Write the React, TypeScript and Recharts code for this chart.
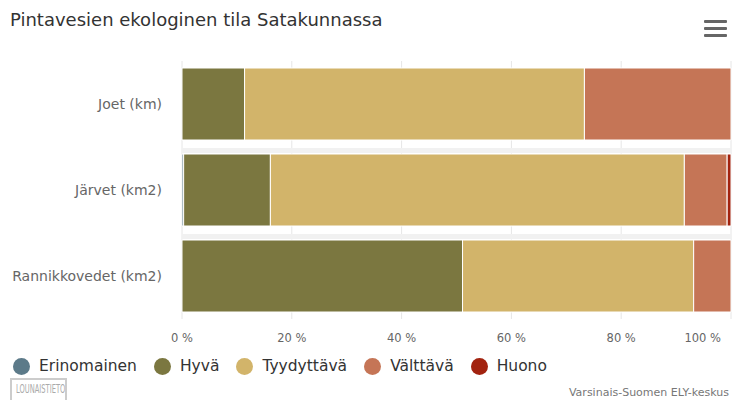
import { BarChart, Bar, XAxis, YAxis, CartesianGrid } from "recharts";

// values as % of total per water type
const categories = ["Joet (km)", "Järvet (km2)", "Rannikkovedet (km2)"];
const erinomainen = [0, 0.3, 0];
const hyva = [11.4, 15.8, 51.1];
const tyydyttava = [61.9, 75.4, 42.1];
const valttava = [26.7, 7.8, 6.8];
const huono = [0, 0.7, 0];
const xTicks = [0, 20, 40, 60, 80, 100];

const series = [
  { key: "Erinomainen", values: erinomainen, color: "#5c7a89" },
  { key: "Hyvä", values: hyva, color: "#7b7740" },
  { key: "Tyydyttävä", values: tyydyttava, color: "#d2b46a" },
  { key: "Välttävä", values: valttava, color: "#c57556" },
  { key: "Huono", values: huono, color: "#a2230f" },
];

const data = categories.map((name, i) => {
  const row: any = { name };
  series.forEach((s) => (row[s.key] = s.values[i]));
  return row;
});

const font = "'DejaVu Sans', sans-serif";

// last label is pulled in so it is not cut at the right edge
const XTick = ({ x, y, payload }: any) => {
  const last = payload.value === 100;
  return (
    <text
      x={last ? x + 1 : x}
      y={y}
      dy="0.71em"
      textAnchor={last ? "end" : "middle"}
      fill="#666"
      fontSize={11.5}
      fontFamily={font}
    >
      {`${payload.value} %`}
    </text>
  );
};

// faint strip between rows
const RowShade = ({ x, y, width, index }: any) =>
  index > 0 ? <rect x={x} y={y - 6} width={width} height={5} fill="#f1f1f1" /> : null;

const App = () => {
  return (
    <div
      style={{
        position: "absolute",
        left: 0,
        top: 0,
        width: 732,
        height: 400,
        background: "#fff",
        fontFamily: font,
      }}
    >
      <div
        style={{
          position: "absolute",
          left: 10,
          top: 9,
          fontSize: 18,
          color: "#333",
          whiteSpace: "nowrap",
        }}
      >
        Pintavesien ekologinen tila Satakunnassa
      </div>
      {/* menu icon */}
      <div style={{ position: "absolute", left: 704, top: 20, width: 23 }}>
        {[0, 1, 2].map((i) => (
          <div
            key={i}
            style={{ height: 3, background: "#666", marginBottom: 4, borderRadius: 1 }}
          />
        ))}
      </div>
      <BarChart
        width={732}
        height={400}
        layout="vertical"
        data={data}
        margin={{ top: 61, right: 1, bottom: 51, left: 0 }}
        barSize={72}
      >
        <CartesianGrid horizontal={false} stroke="#e6e6e6" />
        <XAxis
          type="number"
          domain={[0, 100]}
          ticks={xTicks}
          axisLine={false}
          tickLine={false}
          tickSize={0}
          tickMargin={15}
          height={30}
          tick={<XTick />}
        />
        <YAxis
          type="category"
          dataKey="name"
          width={182}
          axisLine={false}
          tickLine={false}
          tickSize={0}
          tickMargin={20}
          tick={{ fill: "#666", fontSize: 14, fontFamily: font }}
        />
        {series.map((s, i) => (
          <Bar
            key={s.key}
            dataKey={s.key}
            stackId="a"
            fill={s.color}
            stroke="#fff"
            strokeWidth={1}
            background={i === 1 ? <RowShade /> : undefined}
            isAnimationActive={false}
          />
        ))}
      </BarChart>
      {/* legend */}
      <div
        style={{
          position: "absolute",
          left: 13,
          top: 357,
          display: "flex",
          alignItems: "center",
          fontSize: 15.5,
          color: "#333",
          whiteSpace: "nowrap",
        }}
      >
        {series.map((s) => (
          <div key={s.key} style={{ display: "flex", alignItems: "center", marginRight: 17 }}>
            <span
              style={{
                display: "inline-block",
                width: 17,
                height: 17,
                borderRadius: 9,
                background: s.color,
                marginRight: 9,
              }}
            />
            {s.key}
          </div>
        ))}
      </div>
      <div
        style={{
          position: "absolute",
          left: 10,
          top: 378,
          width: 57,
          height: 22,
          borderLeft: "2px solid #ccc",
          borderRight: "2px solid #ccc",
          borderTop: "2px solid #ccc",
          boxSizing: "border-box",
          color: "#aaa",
          overflow: "hidden",
        }}
      >
        <div
          style={{
            fontSize: 12,
            lineHeight: "19px",
            transform: "scaleX(0.56)",
            transformOrigin: "left center",
            marginLeft: 4,
            whiteSpace: "nowrap",
          }}
        >
          LOUNAISTIETO
        </div>
      </div>
      <div
        style={{
          position: "absolute",
          right: 3,
          top: 386,
          fontSize: 11,
          color: "#777",
          whiteSpace: "nowrap",
        }}
      >
        Varsinais-Suomen ELY-keskus
      </div>
    </div>
  );
};

export default App;
